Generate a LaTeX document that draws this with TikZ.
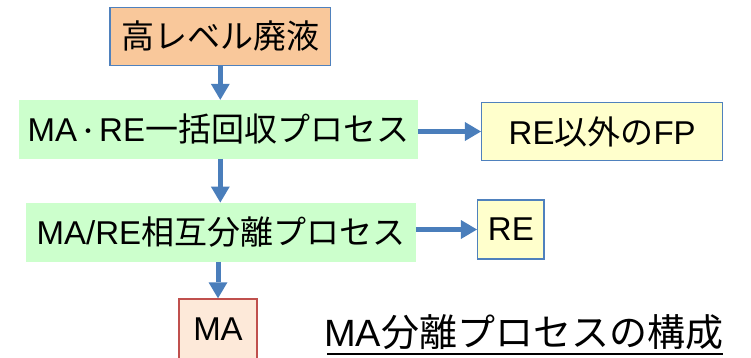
\documentclass[tikz,border=0pt]{standalone}
\usepackage{fontspec}
\setmainfont{Liberation Sans}
\newfontfamily\jp{Noto Sans CJK JP}
\usetikzlibrary{arrows.meta}
\definecolor{arr}{RGB}{74,126,187}
\definecolor{obfill}{RGB}{249,200,155}
\definecolor{bbord}{RGB}{79,129,189}
\definecolor{gfill}{RGB}{204,255,204}
\definecolor{yfill}{RGB}{255,255,204}
\definecolor{mafill}{RGB}{253,233,217}
\definecolor{mabord}{RGB}{192,80,77}
\newcommand{\smalldot}{\raisebox{2.5pt}{\jp\fontsize{22}{22}\selectfont ・}}
\begin{document}
\begin{tikzpicture}[x=1pt,y=-1pt,
  box/.style={inner sep=0pt, font=\fontsize{33}{40}\selectfont, text=black},
  bluebox/.style={box, draw=bbord, line width=1.5pt},
  flow/.style={draw=arr, line width=5pt, -{Triangle[width=19pt,length=16pt,line width=0pt]}}]
\useasboundingbox (0,0) rectangle (751,357);
\clip (0,0) rectangle (751,357);
\node[bluebox, fill=obfill, minimum width=220.7pt, minimum height=58.4pt] (hlw) at (220.3,36.5) {\jp 高レベル廃液};
\node[box, fill=gfill, minimum width=398.7pt, minimum height=58.7pt] (g1) at (218.35,129.35) {MA\smalldot RE{\jp 一括回収プロセス}};
\node[box, fill=gfill, minimum width=389.7pt, minimum height=59pt] (g2) at (220.85,232.2) {MA/RE{\jp 相互分離プロセス}};
\node[bluebox, fill=yfill, minimum width=241pt, minimum height=58.4pt] (y1) at (602.2,131.5) {RE{\jp 以外の}FP};
\node[bluebox, fill=yfill, minimum width=66.3pt, minimum height=59pt] (y2) at (510.85,229.5) {RE};
\node[box, fill=mafill, draw=mabord, line width=1.5pt, minimum width=78pt, minimum height=61pt] (ma) at (218,329.5) {MA};
\node[inner sep=0pt, anchor=base west, font=\fontsize{38}{44}\selectfont] (cap) at (324,346.7) {MA{\jp 分離プロセスの構成}};
\draw[line width=1.5pt] ([xshift=3pt,yshift=-7.3pt]cap.base west) -- ([yshift=-7.3pt]cap.base east);
\draw[flow] (hlw.south) -- (hlw.south |- g1.north);
\draw[flow] (g1.south -| hlw.south) -- (g2.north -| hlw.south);
\draw[flow] (g2.south -| ma.north) -- (ma.north);
\draw[flow] (g1.east |- y1.west) -- (y1.west);
\draw[flow] (g2.east |- y2.west) -- (y2.west);
\end{tikzpicture}
\end{document}
